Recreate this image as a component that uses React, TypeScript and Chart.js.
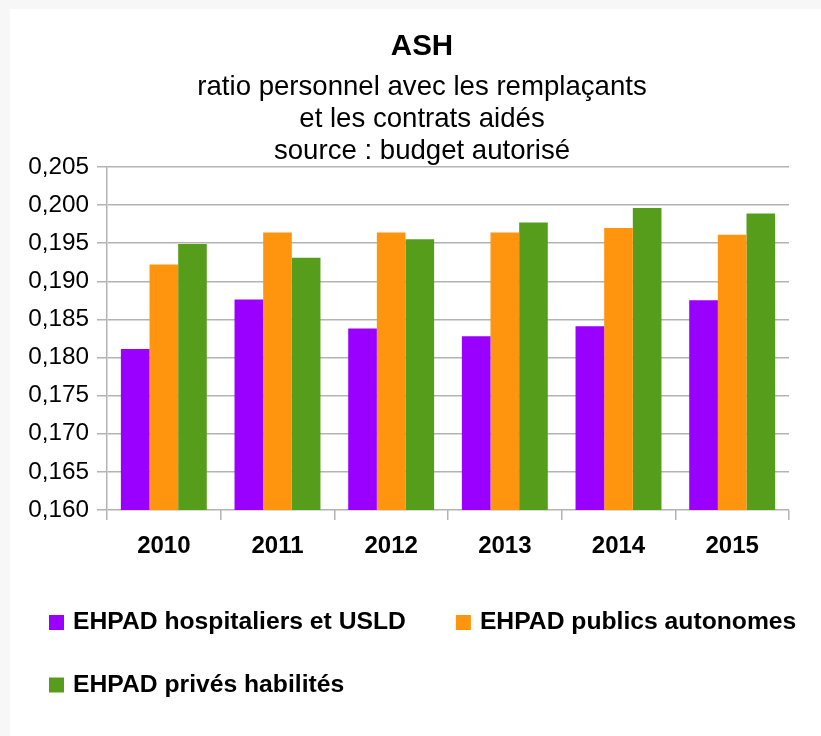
import React, { useEffect, useRef } from "react";
import { Chart, registerables } from "chart.js";

Chart.register(...registerables);

const categories = ["2010", "2011", "2012", "2013", "2014", "2015"];
const hospitaliers = [0.1811, 0.1876, 0.1838, 0.1828, 0.1841, 0.1875];
const publicsAutonomes = [0.1922, 0.1964, 0.1964, 0.1964, 0.197, 0.1961];
const privesHabilites = [0.1949, 0.1931, 0.1955, 0.1977, 0.1996, 0.1989];

const seriesNames = [
  "EHPAD hospitaliers et USLD",
  "EHPAD publics autonomes",
  "EHPAD privés habilités",
];
const seriesColors = ["#9900ff", "#ff950e", "#579d1c"];

const titleText = "ASH";
const subtitleLines = [
  "ratio personnel avec les remplaçants",
  "et les contrats aidés",
  "source : budget autorisé",
];

const FONT = "'Liberation Sans', Arial, sans-serif";
const GRID = "#b3b3b3";

const customLegend = {
  id: "customLegend",
  afterDraw(chart: any) {
    const ctx = chart.ctx;
    const items = chart.data.datasets.map((d: any) => ({
      text: d.label,
      color: d.backgroundColor,
    }));
    const x0 = 39;
    let x = x0;
    let y = 613.5;
    const box = 15;
    const textGap = 9;
    const itemGap = 50;
    const rowH = 62.5;
    const maxW = chart.width - 10;
    ctx.save();
    ctx.font = `bold 24.7px ${FONT}`;
    ctx.textBaseline = "middle";
    ctx.textAlign = "left";
    items.forEach((it: any, i: number) => {
      const tw = ctx.measureText(it.text).width;
      const w = box + textGap + tw;
      if (i > 0 && x + w > maxW) {
        x = x0;
        y += rowH;
      }
      ctx.fillStyle = it.color;
      ctx.fillRect(x, y - box / 2, box, box);
      ctx.fillStyle = "#000";
      ctx.fillText(it.text, x + box + textGap, y);
      x += w + itemGap;
    });
    ctx.restore();
  },
};

export default function App() {
  const ref = useRef<HTMLCanvasElement>(null);
  useEffect(() => {
    if (!ref.current) return;
    const data = [hospitaliers, publicsAutonomes, privesHabilites];
    const chart = new Chart(ref.current, {
      type: "bar",
      data: {
        labels: categories,
        datasets: data.map((d, i) => ({
          label: seriesNames[i],
          data: d,
          backgroundColor: seriesColors[i],
          borderWidth: 0,
          categoryPercentage: 0.756,
          barPercentage: 1,
        })),
      },
      options: {
        responsive: false,
        animation: false,
        layout: { padding: { left: 13, right: 0, top: 2, bottom: 160 } },
        plugins: {
          legend: { display: false },
          tooltip: { enabled: false },
          title: {
            display: true,
            text: titleText,
            color: "#000",
            font: { family: FONT, size: 29.5, weight: "bold", lineHeight: 1.2 },
            padding: { top: 18, bottom: 6.5 },
          },
          subtitle: {
            display: true,
            text: subtitleLines,
            color: "#000",
            font: { family: FONT, size: 27.6, weight: "normal", lineHeight: "32px" },
            padding: { top: 0, bottom: 0 },
          },
        },
        scales: {
          x: {
            offset: true,
            afterFit: (s: any) => {
              s.height = 66;
            },
            grid: {
              offset: true,
              display: true,
              drawOnChartArea: true,
              color: (c: any) =>
                c.index === categories.length ? GRID : "rgba(0,0,0,0)",
              tickColor: GRID,
              tickLength: 10,
              lineWidth: 1.5,
            },
            border: { display: false },
            ticks: {
              color: "#000",
              padding: 12,
              font: { family: FONT, size: 24, weight: "bold" },
            },
          },
          y: {
            min: 0.16,
            max: 0.205,
            afterFit: (s: any) => {
              s.width = 84;
            },
            grid: {
              color: GRID,
              tickColor: GRID,
              tickLength: 10,
              lineWidth: 1.5,
            },
            border: { display: true, color: GRID, width: 1.5 },
            ticks: {
              stepSize: 0.005,
              color: "#000",
              padding: 8,
              font: { family: FONT, size: 24.3 },
              callback: (v: any) => Number(v).toFixed(3).replace(".", ","),
            },
          },
          yRight: {
            type: "linear",
            position: "right",
            afterFit: (s: any) => {
              s.width = 32;
            },
            grid: { display: false, drawOnChartArea: false },
            border: { display: false },
            ticks: { display: false },
          },
        },
      },
      plugins: [customLegend],
    });
    return () => chart.destroy();
  }, []);

  return (
    <div
      style={{
        position: "fixed",
        left: 0,
        top: 0,
        width: 821,
        height: 736,
        background: "#f7f7f7",
      }}
    >
      <canvas
        ref={ref}
        width={811}
        height={727}
        style={{
          position: "absolute",
          left: 10,
          top: 9,
          width: 811,
          height: 727,
          background: "#ffffff",
        }}
      />
    </div>
  );
}
